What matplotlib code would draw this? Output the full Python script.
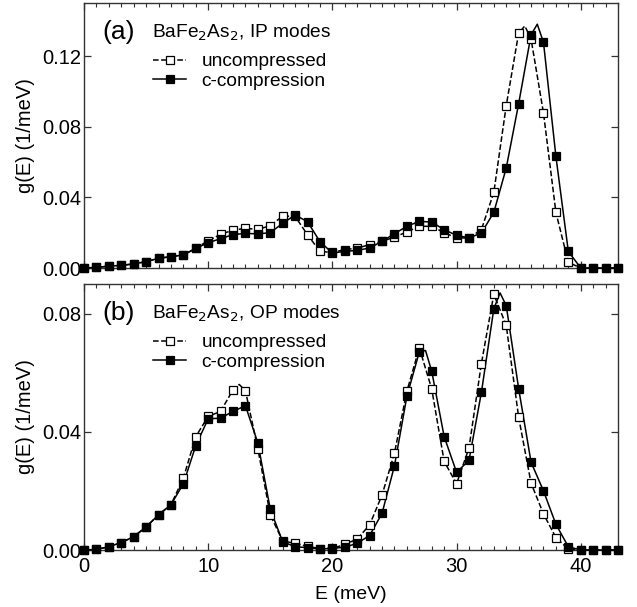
import matplotlib
matplotlib.use('Agg')
import matplotlib.pyplot as plt
import numpy as np

plt.rcParams['font.family'] = ['Liberation Sans', 'DejaVu Sans']

energy = list(range(44))

# in-plane modes (values at the plotted markers)
ip_uncomp = [0.0, 0.0004, 0.001, 0.0015, 0.0023, 0.0036, 0.0055, 0.0064, 0.0074, 0.0111,
             0.0155, 0.019, 0.0215, 0.0224, 0.0219, 0.0239, 0.0294, 0.0292, 0.0188, 0.0094,
             0.0088, 0.0104, 0.0113, 0.0132, 0.0151, 0.0175, 0.0204, 0.0236, 0.0236, 0.0200,
             0.0170, 0.0170, 0.0217, 0.0428, 0.0919, 0.1330, 0.1296, 0.0877, 0.0315, 0.0032,
             0.0, 0.0, 0.0, 0.0]
ip_comp = [0.0, 0.0004, 0.001, 0.0015, 0.0023, 0.0036, 0.0055, 0.0064, 0.0074, 0.0111,
           0.0143, 0.0166, 0.0189, 0.0196, 0.0193, 0.0200, 0.0253, 0.0300, 0.0262, 0.0149,
           0.0085, 0.0094, 0.0100, 0.0113, 0.0151, 0.0194, 0.0236, 0.0264, 0.0260, 0.0217,
           0.0185, 0.0170, 0.0198, 0.0315, 0.0566, 0.0930, 0.1320, 0.1277, 0.0632, 0.0094,
           0.0, 0.0, 0.0, 0.0]

# out-of-plane modes
op_uncomp = [0.0, 0.0002, 0.0011, 0.0025, 0.0045, 0.0078, 0.0119, 0.0153, 0.0243, 0.0384,
             0.0452, 0.0469, 0.0542, 0.0539, 0.0342, 0.0119, 0.003, 0.0023, 0.0012, 0.0005,
             0.0005, 0.0019, 0.0037, 0.0085, 0.0186, 0.0328, 0.0537, 0.0684, 0.0545, 0.0300,
             0.0224, 0.0345, 0.0631, 0.0865, 0.0760, 0.0449, 0.0226, 0.0122, 0.0042, 0.0003,
             0.0, 0.0, 0.0, 0.0]
op_comp = [0.0, 0.0002, 0.0011, 0.0025, 0.0045, 0.0078, 0.0119, 0.0153, 0.0224, 0.0353,
           0.0444, 0.0446, 0.0469, 0.0488, 0.0362, 0.0138, 0.0028, 0.0011, 0.0008, 0.0003,
           0.0006, 0.0009, 0.0023, 0.0049, 0.0124, 0.0285, 0.0520, 0.0670, 0.0605, 0.0384,
           0.0263, 0.0303, 0.0533, 0.0816, 0.0827, 0.0546, 0.0297, 0.0200, 0.0087, 0.0011,
           0.0, 0.0, 0.0, 0.0]

# extra points on the drawn curves between markers (peak tops)
ip_uncomp_peak_E, ip_uncomp_peak = [35.5], [0.137]
ip_comp_peak_E, ip_comp_peak = [36.5], [0.138]
op_uncomp_peak_E, op_uncomp_peak = [12.5], [0.056]
op_comp_peak_E, op_comp_peak = [27.5, 33.5], [0.0675, 0.087]


def curve(vals, extra_E, extra_v):
    pts = sorted(list(zip(energy, vals)) + list(zip(extra_E, extra_v)))
    return [p[0] for p in pts], [p[1] for p in pts]


panels = [
    ('(a)', 'IP modes', ip_uncomp, ip_comp, (ip_uncomp_peak_E, ip_uncomp_peak),
     (ip_comp_peak_E, ip_comp_peak), 0.15, [0.0, 0.04, 0.08, 0.12]),
    ('(b)', 'OP modes', op_uncomp, op_comp, (op_uncomp_peak_E, op_uncomp_peak),
     (op_comp_peak_E, op_comp_peak), 0.09, [0.0, 0.04, 0.08]),
]

fig = plt.figure(figsize=(6.37, 6.07), dpi=100)
ax_a = fig.add_axes([84 / 637, 1 - 268 / 607, 534 / 637, 265 / 607])
ax_b = fig.add_axes([84 / 637, 1 - 550 / 607, 534 / 637, 266 / 607])

for ax, (tag, modes, unc, comp, unc_pk, comp_pk, ymax, yt) in zip([ax_a, ax_b], panels):
    cx, cy = curve(unc, *unc_pk)
    ax.plot(cx, cy, ls='--', color='black', lw=1.1, clip_on=False, zorder=3)
    cx, cy = curve(comp, *comp_pk)
    ax.plot(cx, cy, ls='-', color='black', lw=1.1, clip_on=False, zorder=4)
    ax.plot(energy, unc, ls='none', marker='s', ms=5.2,
            mfc='white', mec='black', mew=0.9, clip_on=False, zorder=5)
    ax.plot(energy, comp, ls='none', marker='s', ms=5.2,
            mfc='black', mec='black', mew=0.9, clip_on=False, zorder=6)
    # legend proxies
    ax.plot([], [], ls='--', color='black', lw=1.1, marker='s', ms=5.2,
            mfc='white', mec='black', mew=0.9, label='uncompressed')
    ax.plot([], [], ls='-', color='black', lw=1.1, marker='s', ms=5.2,
            mfc='black', mec='black', mew=0.9, label='c-compression')
    ax.set_xlim(0, 43)
    ax.set_ylim(0, ymax)
    ax.set_yticks(yt)
    ax.set_yticklabels(['%.2f' % v for v in yt])
    ax.set_xticks([0, 10, 20, 30, 40])
    ax.set_xticks(np.arange(0, 44, 1), minor=True)
    ax.tick_params(which='both', direction='in', top=True, right=True,
                   labelsize=14.5, color='#333333')
    ax.tick_params(which='major', length=5, width=0.9, pad=2)
    ax.tick_params(axis='x', which='major', pad=5)
    ax.tick_params(axis='y', which='minor', left=False, right=False)
    ax.tick_params(which='minor', length=3, width=0.8)
    for s in ax.spines.values():
        s.set_color('#333333')
        s.set_linewidth(1.0)
    ax.set_ylabel('g(E) (1/meV)', fontsize=14.5, labelpad=5)
    ax.text(0.034, 0.89, tag, transform=ax.transAxes, fontsize=19, va='center', ha='left')
    ax.text(0.127, 0.868, r'BaFe$_2$As$_2$, ' + modes, transform=ax.transAxes,
            fontsize=13.8, va='baseline', ha='left')
    ax.legend(loc='upper left', bbox_to_anchor=(0.13, 0.812), frameon=False,
              fontsize=13.8, handlelength=1.7, handletextpad=0.8, labelspacing=0.12,
              borderpad=0, borderaxespad=0)

ax_a.tick_params(labelbottom=False)
ax_b.set_xlabel('E (meV)', fontsize=14, labelpad=7)

fig.savefig('out.png', dpi=100)
